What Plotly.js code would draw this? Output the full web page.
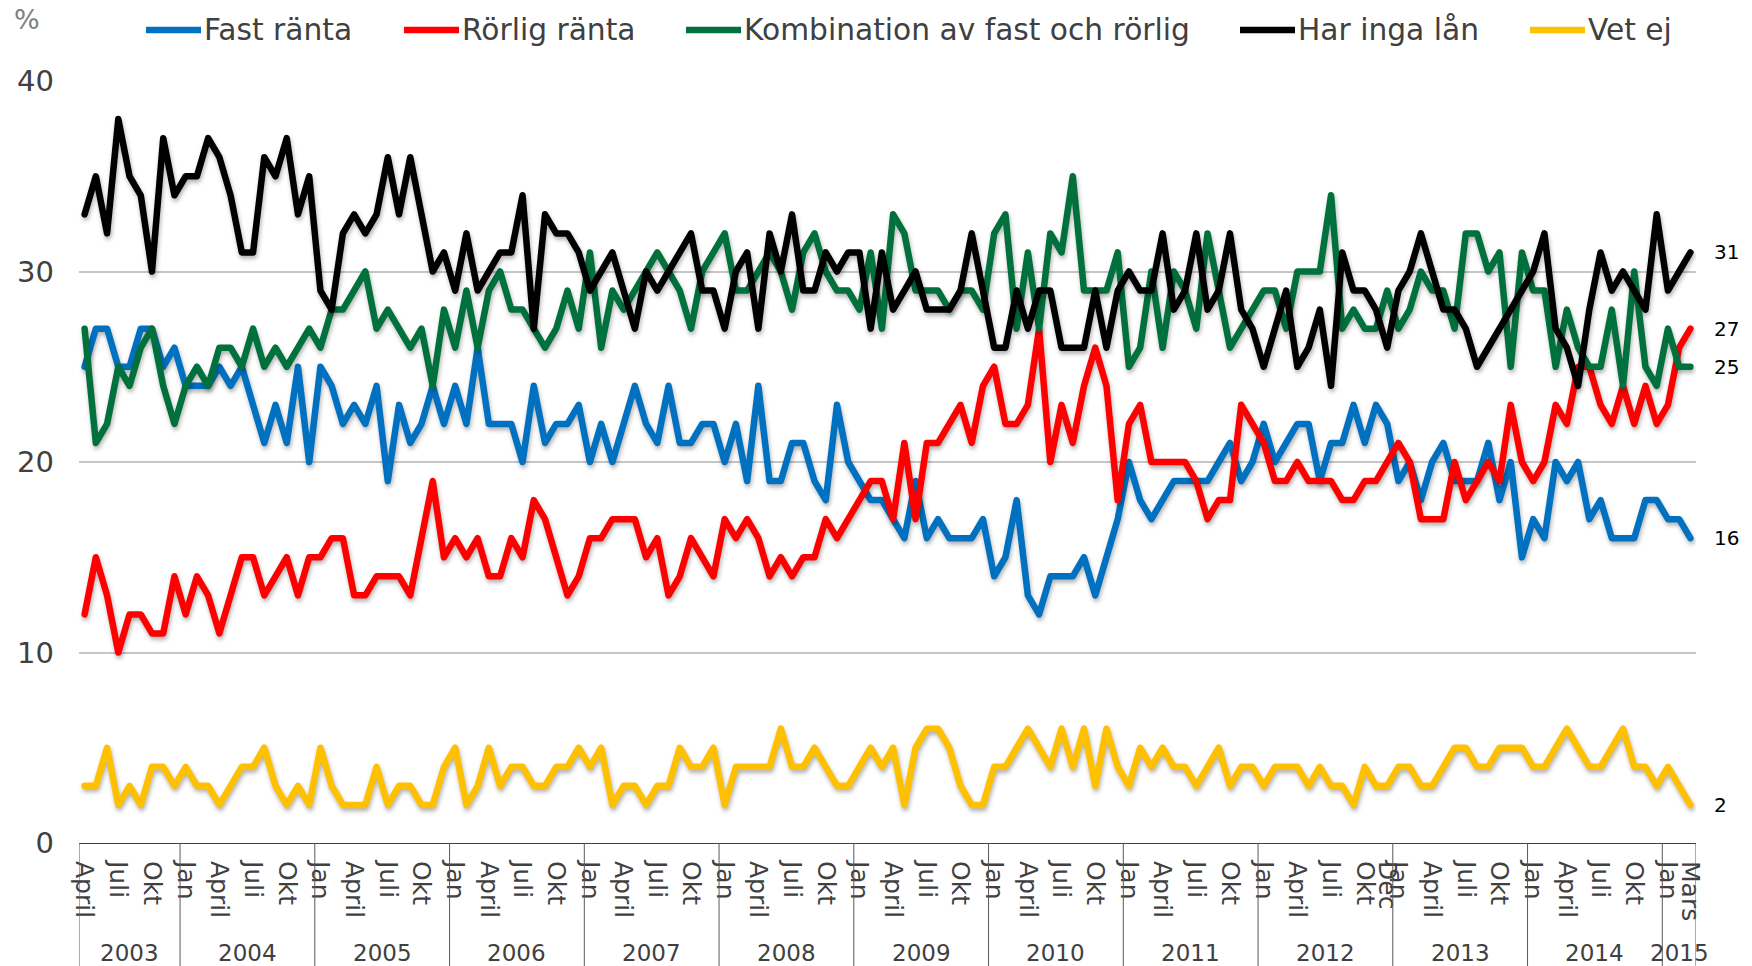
<!DOCTYPE html>
<html>
<head>
<meta charset="utf-8">
<script src="https://cdn.plot.ly/plotly-3.0.1.min.js"></script>
<style>
html, body { margin: 0; padding: 0; background: #fff; }
#chart { width: 1752px; height: 966px; }
.scatterlayer .js-line { stroke-linejoin: round; stroke-linecap: round; filter: drop-shadow(1px 3px 2px rgba(0,0,0,0.3)); }
</style>
</head>
<body>
<div id="chart"></div>
<script>
// Hushållens bolån: typ av ränta, april 2003 - mars 2015 (procent)
var monthNames = ['Jan','Feb','Mars','April','Maj','Juni','Juli','Aug','Sep','Okt','Nov','Dec'];
var shownMonths = ['Jan','April','Juli','Okt'];
var extraTicks = ['2012-12', '2015-03'];
var seriesNames = ['Fast ränta', 'Rörlig ränta', 'Kombination av fast och rörlig', 'Har inga lån', 'Vet ej'];
var seriesColors = ['#0070C0', '#FF0000', '#00703C', '#000000', '#FFC000'];

var fastRanta = [
  25,27,27,25,25,27,27,25,26,24,24,24,25,24,25,23,
  21,23,21,25,20,25,24,22,23,22,24,19,23,21,22,24,
  22,24,22,26,22,22,22,20,24,21,22,22,23,20,22,20,
  22,24,22,21,24,21,21,22,22,20,22,19,24,19,19,21,
  21,19,18,23,20,19,18,18,17,16,19,16,17,16,16,16,
  17,14,15,18,13,12,14,14,14,15,13,15,17,20,18,17,
  18,19,19,19,19,20,21,19,20,22,20,21,22,22,19,21,
  21,23,21,23,22,19,20,18,20,21,19,19,19,21,18,20,
  15,17,16,20,19,20,17,18,16,16,16,18,18,17,17,16
];
var rorligRanta = [
  12,15,13,10,12,12,11,11,14,12,14,13,11,13,15,15,
  13,14,15,13,15,15,16,16,13,13,14,14,14,13,16,19,
  15,16,15,16,14,14,16,15,18,17,15,13,14,16,16,17,
  17,17,15,16,13,14,16,15,14,17,16,17,16,14,15,14,
  15,15,17,16,17,18,19,19,17,21,17,21,21,22,23,21,
  24,25,22,22,23,27,20,23,21,24,26,24,18,22,23,20,
  20,20,20,19,17,18,18,23,22,21,19,19,20,19,19,19,
  18,18,19,19,20,21,20,17,17,17,20,18,19,20,19,23,
  20,19,20,23,22,25,25,23,22,24,22,24,22,23,26,27
];
var kombination = [
  27,21,22,25,24,26,27,24,22,24,25,24,26,26,25,27,
  25,26,25,26,27,26,28,28,29,30,27,28,27,26,27,24,
  28,26,29,26,29,30,28,28,27,26,27,29,27,31,26,29,
  28,29,30,31,30,29,27,30,31,32,29,29,30,31,30,28,
  31,32,30,29,29,28,31,27,33,32,29,29,29,28,29,29,
  28,32,33,27,31,27,32,31,35,29,29,29,31,25,26,30,
  26,30,29,27,32,29,26,27,28,29,29,27,30,30,30,34,
  27,28,27,27,29,27,28,30,29,29,27,32,32,30,31,25,
  31,29,29,25,28,26,25,25,28,24,30,25,24,27,25,25
];
var ingaLan = [
  33,35,32,38,35,34,30,37,34,35,35,37,36,34,31,31,
  36,35,37,33,35,29,28,32,33,32,33,36,33,36,33,30,
  31,29,32,29,30,31,31,34,27,33,32,32,31,29,30,31,
  29,27,30,29,30,31,32,29,29,27,30,31,27,32,30,33,
  29,29,31,30,31,31,27,31,28,29,30,28,28,28,29,32,
  29,26,26,29,27,29,29,26,26,26,29,26,29,30,29,29,
  32,28,29,32,28,29,32,28,27,25,27,29,25,26,28,24,
  31,29,29,28,26,29,30,32,30,28,28,27,25,26,27,28,
  29,30,32,27,26,24,28,31,29,30,29,28,33,29,30,31
];
var vetEj = [
  3,3,5,2,3,2,4,4,3,4,3,3,2,3,4,4,
  5,3,2,3,2,5,3,2,2,2,4,2,3,3,2,2,
  4,5,2,3,5,3,4,4,3,3,4,4,5,4,5,2,
  3,3,2,3,3,5,4,4,5,2,4,4,4,4,6,4,
  4,5,4,3,3,4,5,4,5,2,5,6,6,5,3,2,
  2,4,4,5,6,5,4,6,4,6,3,6,4,3,5,4,
  5,4,4,3,4,5,3,4,4,3,4,4,4,3,4,3,
  3,2,4,3,3,4,4,3,3,4,5,5,4,4,5,5,
  5,4,4,5,6,5,4,4,5,6,4,4,3,4,3,2
];
var allSeries = [fastRanta, rorligRanta, kombination, ingaLan, vetEj];

// months april 2003 .. mars 2015
var periods = [];
for (var y = 2003; y <= 2015; y++) {
  for (var m = 1; m <= 12; m++) {
    if ((y === 2003 && m < 4) || (y === 2015 && m > 3)) continue;
    periods.push(y + '-' + (m < 10 ? '0' + m : m));
  }
}

var tickVals = [], tickText = [];
periods.forEach(function (p) {
  var name = monthNames[+p.slice(5) - 1];
  if (shownMonths.indexOf(name) >= 0 || extraTicks.indexOf(p) >= 0) {
    tickVals.push(p);
    tickText.push(name);
  }
});

var M = {l: 79, r: 56, t: 81, b: 123};
var W = 1752 - M.l - M.r, H = 966 - M.t - M.b;
function px2x(px) { return (px - M.l) / W; }
function py2y(py) { return (966 - M.b - py) / H; }

var font = 'DejaVu Sans, Verdana, sans-serif';
var textGrey = '#404040';

var traces = allSeries.map(function (vals, i) {
  return {
    x: periods, y: vals, type: 'scatter', mode: 'lines', name: seriesNames[i],
    line: {color: seriesColors[i], width: 6.5}, showlegend: false, hoverinfo: 'skip'
  };
});

var shapes = [], annotations = [];

// year boxes under the month labels
var yearList = [];
periods.forEach(function (p) { var yr = p.slice(0, 4); if (yearList.indexOf(yr) < 0) yearList.push(yr); });
yearList.forEach(function (yr) {
  var first = -1, last = -1;
  periods.forEach(function (p, i) { if (p.slice(0, 4) === yr) { if (first < 0) first = i; last = i; } });
  shapes.push({type: 'line', xref: 'x', yref: 'paper', x0: first - 0.5, x1: first - 0.5, y0: 0, y1: py2y(966),
    line: {color: '#595959', width: 1}});
  annotations.push({xref: 'x', yref: 'paper', x: (first + last) / 2, y: py2y(953), text: yr, showarrow: false,
    xanchor: 'center', yanchor: 'middle', font: {family: font, size: 23, color: textGrey}});
});
shapes.push({type: 'line', xref: 'x', yref: 'paper', x0: periods.length - 0.5, x1: periods.length - 0.5, y0: 0, y1: py2y(966),
  line: {color: '#595959', width: 1}});

// end values at the right
allSeries.forEach(function (vals) {
  var n = vals.length - 1;
  annotations.push({xref: 'x', yref: 'y', x: periods[n], y: vals[n], text: String(vals[n]), showarrow: false,
    xanchor: 'left', yanchor: 'middle', xshift: 22, font: {family: font, size: 20, color: '#000'}});
});

// legend drawn by hand
var legendLineX = [146, 404, 686, 1240, 1530];
var legendY = 30;
seriesNames.forEach(function (name, i) {
  shapes.push({type: 'line', xref: 'paper', yref: 'paper', x0: px2x(legendLineX[i]), x1: px2x(legendLineX[i] + 55),
    y0: py2y(legendY), y1: py2y(legendY), line: {color: seriesColors[i], width: 6.5}});
  annotations.push({xref: 'paper', yref: 'paper', x: px2x(legendLineX[i] + 56), y: py2y(legendY), text: name,
    showarrow: false, xanchor: 'left', yanchor: 'middle', font: {family: font, size: 29.7, color: textGrey}});
});

annotations.push({xref: 'paper', yref: 'paper', x: px2x(12), y: py2y(20), text: '%', showarrow: false,
  xanchor: 'left', yanchor: 'middle', font: {family: font, size: 27, color: '#808080'}});

var layout = {
  width: 1752, height: 966,
  margin: M,
  paper_bgcolor: '#fff', plot_bgcolor: '#fff',
  showlegend: false,
  hovermode: false,
  xaxis: {
    type: 'category', range: [-0.5, periods.length - 0.5],
    tickmode: 'array', tickvals: tickVals, ticktext: tickText, tickangle: 90,
    ticks: '', ticklabelstandoff: 12,
    tickfont: {family: font, size: 25, color: textGrey},
    showgrid: false, showline: true, linecolor: '#404040', linewidth: 1, zeroline: false
  },
  yaxis: {
    range: [0, 40], tickvals: [0, 10, 20, 30, 40], ticks: '', ticklabelstandoff: 24,
    tickfont: {family: font, size: 29, color: textGrey},
    showgrid: true, gridcolor: '#c6c6c6', gridwidth: 2, zeroline: false, showline: false
  },
  shapes: shapes,
  annotations: annotations
};

Plotly.newPlot('chart', traces, layout, {displayModeBar: false, staticPlot: true});
</script>
</body>
</html>
